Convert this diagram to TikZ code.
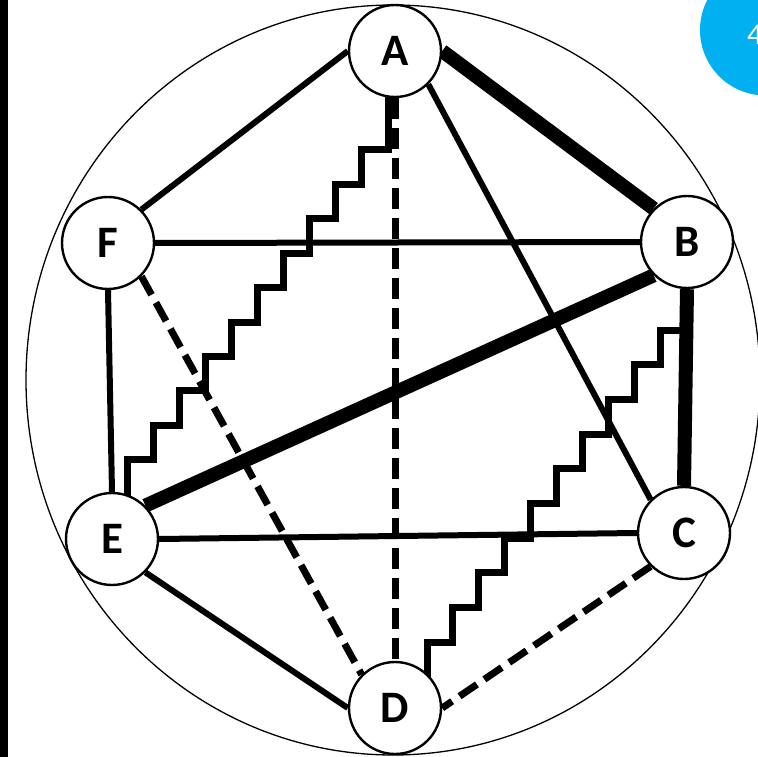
\documentclass[tikz,border=0pt]{standalone}
\usepackage{fontspec}
\setmainfont{Carlito}
\usetikzlibrary{backgrounds}
\definecolor{skyb}{RGB}{0,176,240}
\begin{document}
\begin{tikzpicture}[x=1pt,y=-1pt,
  vtx/.style={circle,draw,line width=2.4pt,fill=white,minimum size=92pt,inner sep=0pt,
    font=\fontsize{45}{45}\selectfont\bfseries},
  med/.style={line width=6pt},
  heavy/.style={line width=14pt},
  dsh/.style={line width=7pt,dash pattern=on 21pt off 9pt},
  stair/.style={line width=7pt,line join=miter}]
\useasboundingbox (0,0) rectangle (758,757);
\clip (0,0) rectangle (758,757);
% nodes
\node[vtx] (A) at (395,51) {A};
\node[vtx] (B) at (687,242) {B};
\node[vtx] (C) at (684,533) {C};
\node[vtx] (D) at (395,708) {D};
\node[vtx] (E) at (112,539) {E};
\node[vtx] (F) at (108,243) {F};
\begin{pgfonlayer}{background}
  \draw[line width=1.3pt] (393,380) ellipse [x radius=367, y radius=375];
  % solid connectors
  \draw[med] (A.west) -- (F.north east);
  \draw[med] (A.south east) -- (C.north west);
  \draw[med] (F.east) -- (B.west);
  \draw[med] (F.south) -- (E.north);
  \draw[med] (E.east) -- (C.west);
  \draw[med] (E.south east) -- (D.west);
  % heavy connectors
  \draw[heavy] (A.east) -- (B.north west);
  \draw[heavy] (B.south west) -- (E.north east);
  \draw[heavy] (B.south) -- (C.north);
  % dashed connectors
  \draw[dsh] (A.south) -- (D.north);
  \draw[dsh] (F.south east) -- (D.north west);
  \draw[dsh] (C.south west) -- (D.east);
  % staircases
  \draw[stair] ([xshift=-7pt]A.center) -- ++(0,99)
    foreach \i in {1,...,9}{ -- ++(-26.1,0) -- ++(0,34.4)}
    -- ++(-26.1,0) coordinate (e1) -- (e1 |- E.center);
  \draw[stair] ([xshift=-1pt]B.center) -- ++(0,88)
    foreach \i in {1,...,9}{ -- ++(-25.9,0) -- ++(0,34.7)}
    -- ++(-25.9,0) coordinate (d1) -- (d1 |- D.center);
\end{pgfonlayer}
% left bar
\fill (0,0) rectangle (8,757);
% blue badge
\fill[skyb] (765.5,30) circle [radius=65.5];
\node[text=white,anchor=west,inner sep=0pt,font=\fontsize{30}{30}\selectfont] (n4) at (747,35) {4};
\end{tikzpicture}
\end{document}
